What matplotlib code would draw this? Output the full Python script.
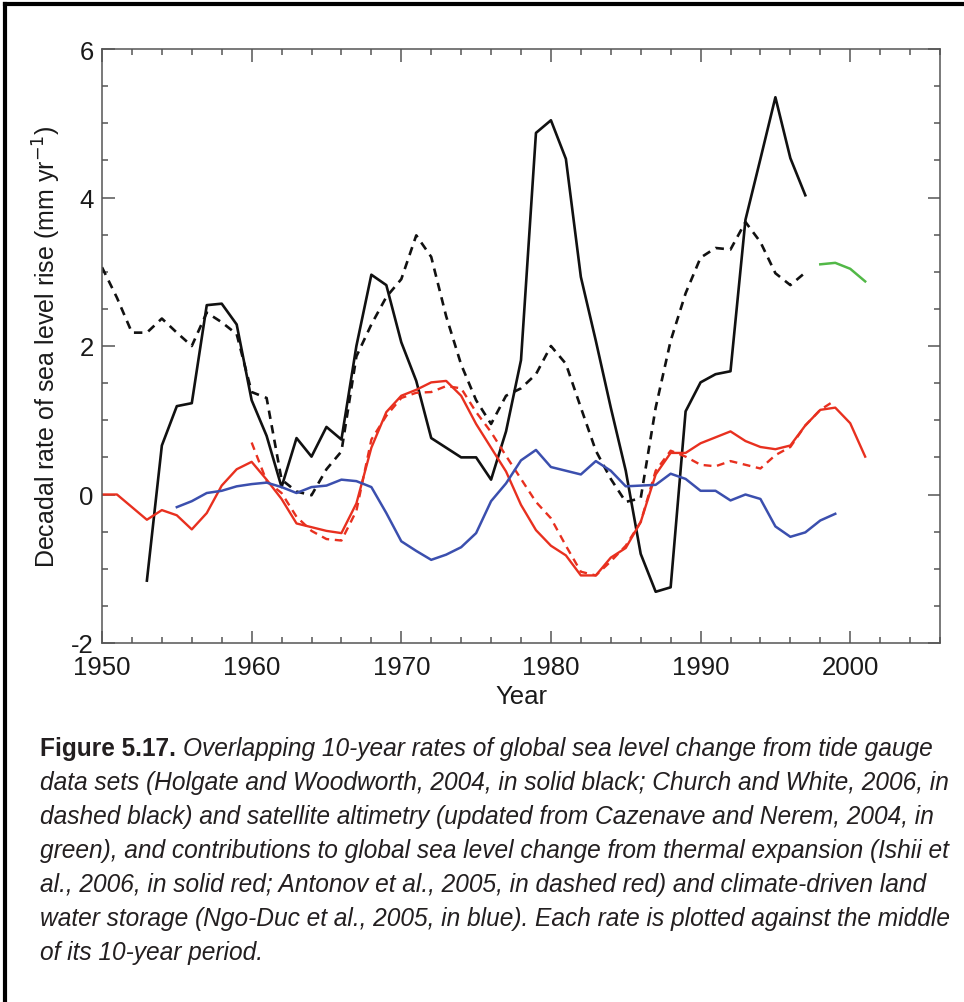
import matplotlib
matplotlib.use("Agg")
import matplotlib.pyplot as plt
from matplotlib.lines import Line2D
from matplotlib.ticker import MultipleLocator
from matplotlib import font_manager

# ---------------- data ----------------
holgate_years = list(range(1953, 1998))
holgate_rate = [-1.16, 0.66, 1.19, 1.23, 2.55, 2.57, 2.29, 1.27, 0.79, 0.10,
                0.76, 0.51, 0.91, 0.74, 2.00, 2.96, 2.82, 2.05, 1.53, 0.76,
                0.63, 0.50, 0.50, 0.20, 0.85, 1.81, 4.87, 5.04, 4.52, 2.93,
                2.07, 1.17, 0.32, -0.80, -1.31, -1.25, 1.12, 1.51, 1.62, 1.66,
                3.70, 4.52, 5.35, 4.53, 4.03]

church_years = list(range(1950, 1998))
church_rate = [3.06, 2.65, 2.18, 2.18, 2.37, 2.18, 2.00, 2.45, 2.32, 2.16,
               1.38, 1.30, 0.20, 0.04, -0.01, 0.34, 0.58, 1.86, 2.29, 2.66,
               2.90, 3.49, 3.20, 2.40, 1.75, 1.27, 0.95, 1.33, 1.43, 1.62,
               2.00, 1.76, 1.17, 0.59, 0.21, -0.10, -0.05, 1.17, 2.07, 2.71,
               3.19, 3.32, 3.30, 3.67, 3.40, 2.98, 2.82, 2.99]

altimetry_years = [1998, 1999, 2000, 2001]
altimetry_rate = [3.10, 3.12, 3.04, 2.87]

ishii_years = list(range(1950, 2002))
ishii_rate = [0.00, 0.00, -0.17, -0.34, -0.21, -0.28, -0.47, -0.25, 0.12, 0.34,
              0.44, 0.20, -0.06, -0.39, -0.44, -0.49, -0.52, -0.12, 0.63, 1.11,
              1.33, 1.41, 1.51, 1.53, 1.33, 0.95, 0.63, 0.31, -0.14, -0.48,
              -0.69, -0.82, -1.09, -1.09, -0.85, -0.72, -0.37, 0.27, 0.56, 0.56,
              0.69, 0.77, 0.85, 0.72, 0.64, 0.61, 0.66, 0.93, 1.14, 1.17,
              0.96, 0.51]

antonov_years = list(range(1960, 2000))
antonov_rate = [0.70, 0.18, 0.02, -0.30, -0.49, -0.60, -0.62, -0.22, 0.74, 1.06,
                1.30, 1.37, 1.38, 1.46, 1.43, 1.11, 0.84, 0.52, 0.21, -0.10,
                -0.32, -0.69, -1.04, -1.09, -0.90, -0.69, -0.37, 0.32, 0.59, 0.51,
                0.40, 0.38, 0.45, 0.40, 0.35, 0.53, 0.64, 0.93, 1.14, 1.27]

ngoduc_years = list(range(1955, 2000))
ngoduc_rate = [-0.17, -0.09, 0.02, 0.05, 0.11, 0.14, 0.16, 0.10, 0.02, 0.10,
               0.12, 0.20, 0.18, 0.10, -0.25, -0.63, -0.76, -0.88, -0.81, -0.71,
               -0.52, -0.09, 0.15, 0.46, 0.60, 0.37, 0.32, 0.27, 0.45, 0.32,
               0.11, 0.12, 0.13, 0.28, 0.21, 0.05, 0.05, -0.08, 0.00, -0.06,
               -0.43, -0.57, -0.51, -0.35, -0.26]

x_ticks = [1950, 1960, 1970, 1980, 1990, 2000]
y_ticks = [-2, 0, 2, 4, 6]

caption_bold = "Figure 5.17."
caption_lines = [
    "Overlapping 10-year rates of global sea level change from tide gauge",
    "data sets (Holgate and Woodworth, 2004, in solid black; Church and White, 2006, in",
    "dashed black) and satellite altimetry (updated from Cazenave and Nerem, 2004, in",
    "green), and contributions to global sea level change from thermal expansion (Ishii et",
    "al., 2006, in solid red; Antonov et al., 2005, in dashed red) and climate-driven land",
    "water storage (Ngo-Duc et al., 2005, in blue). Each rate is plotted against the middle",
    "of its 10-year period.",
]

# ---------------- style ----------------
W, H = 964, 1003
DPI = 100
installed = {f.name for f in font_manager.fontManager.ttflist}
main_font = "Liberation Sans" if "Liberation Sans" in installed else "DejaVu Sans"
cap_font = "Liberation Sans Narrow" if "Liberation Sans Narrow" in installed else main_font
plt.rcParams["font.family"] = [main_font, "DejaVu Sans"]
plt.rcParams["axes.unicode_minus"] = False

fig = plt.figure(figsize=(W / DPI, H / DPI), dpi=DPI)
fig.patch.set_facecolor("white")

ax_l, ax_r, ax_t, ax_b = 102, 940, 50, 644
ax = fig.add_axes([ax_l / W, 1 - ax_b / H, (ax_r - ax_l) / W, (ax_b - ax_t) / H])

RED = "#e8301f"
BLUE = "#3b4fae"
GREEN = "#52b847"
BLACK = "#111111"

ax.plot(holgate_years, holgate_rate, color=BLACK, lw=1.9)
ax.plot(church_years, church_rate, color=BLACK, lw=1.9, linestyle=(0, (3.2, 2.4)))
ax.plot(ishii_years, ishii_rate, color=RED, lw=1.7)
ax.plot(antonov_years, antonov_rate, color=RED, lw=1.7, linestyle=(0, (3.3, 2.4)))
ax.plot(ngoduc_years, ngoduc_rate, color=BLUE, lw=1.8)
ax.plot(altimetry_years, altimetry_rate, color=GREEN, lw=1.8)

ax.set_xlim(1950, 2006)
ax.set_ylim(-2, 6)
ax.set_xticks(x_ticks)
ax.set_yticks(y_ticks)
ax.xaxis.set_minor_locator(MultipleLocator(2))
ax.yaxis.set_minor_locator(MultipleLocator(0.5))

spine_col = "#555555"
for s in ax.spines.values():
    s.set_color(spine_col)
    s.set_linewidth(1.1)
ax.tick_params(which="both", direction="in", top=True, right=True,
               color=spine_col, width=1.1, labelsize=18.5, labelcolor="#1a1a1a")
ax.tick_params(which="major", length=9)
ax.tick_params(which="minor", length=4.5)
ax.tick_params(axis="x", which="major", pad=9)
ax.tick_params(axis="y", which="major", pad=6)

ax.set_xlabel("Year", fontsize=18.5, color="#1a1a1a", labelpad=3)
ax.set_ylabel("Decadal rate of sea level rise (mm yr$^{-1}$)", fontsize=18,
              color="#1a1a1a", labelpad=6)

# ---------------- outer frame ----------------
fw = 3.0
fig.add_artist(Line2D([5 / W, 1.0], [1 - 5 / H, 1 - 5 / H], transform=fig.transFigure,
                      color="black", lw=fw))
fig.add_artist(Line2D([5 / W, 5 / W], [1 - 5 / H, 0.0], transform=fig.transFigure,
                      color="black", lw=fw))

# ---------------- caption ----------------
renderer = fig.canvas.get_renderer()
cap_x = 40
cap_right = 938
baselines = [756, 790, 824, 858, 892, 926, 960]
cap_col = "#231f20"


def width_px(t):
    return t.get_window_extent(renderer=renderer).width

# fit size so that first line spans the same width as in the reference
fs = 13.0
for _ in range(3):
    tb = fig.text(0, 0, caption_bold + " ", fontsize=fs, fontweight="bold", family=cap_font)
    ti = fig.text(0, 0, caption_lines[0], fontsize=fs, style="italic", family=cap_font)
    total = width_px(tb) + width_px(ti)
    tb.remove(); ti.remove()
    fs = fs * (cap_right - cap_x) / total

tb = fig.text(cap_x / W, 1 - baselines[0] / H, caption_bold + " ", fontsize=fs,
              fontweight="bold", family=cap_font, color=cap_col, va="baseline")
bw = width_px(tb)
fig.text((cap_x + bw) / W, 1 - baselines[0] / H, caption_lines[0], fontsize=fs,
         style="italic", family=cap_font, color=cap_col, va="baseline")
for line, bl in zip(caption_lines[1:], baselines[1:]):
    fig.text(cap_x / W, 1 - bl / H, line, fontsize=fs, style="italic",
             family=cap_font, color=cap_col, va="baseline")

fig.savefig("out.png", dpi=DPI, facecolor="white")
